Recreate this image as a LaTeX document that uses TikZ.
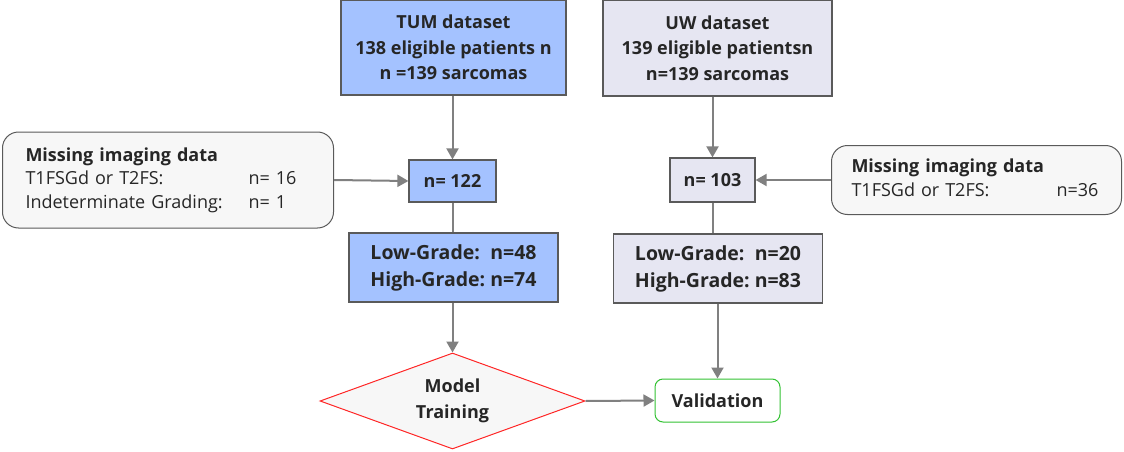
\documentclass[tikz,border=0pt]{standalone}
\usepackage{fontspec}
\setmainfont{Open Sans}
\usetikzlibrary{shapes.geometric,arrows.meta}
\definecolor{tumblue}{HTML}{A4C2FF}
\definecolor{uwgray}{HTML}{E6E6F2}
\definecolor{notegray}{HTML}{F7F7F7}
\definecolor{linegray}{HTML}{808080}
\definecolor{boxedge}{HTML}{5A5A5A}
\begin{document}
\begin{tikzpicture}[
    x=1pt, y=-1pt,
    every node/.style={font=\fontsize{18}{25.5}\selectfont, text=black!85},
    databox/.style={draw=boxedge, line width=1.2pt, align=center, font=\fontsize{18}{25.5}\selectfont\bfseries, inner sep=0pt},
    tumbox/.style={databox, fill=tumblue},
    uwbox/.style={databox, fill=uwgray},
    gradebox/.style={minimum width=209pt, minimum height=69pt, font=\fontsize{19.5}{27}\selectfont\bfseries},
    notebox/.style={draw=boxedge, line width=1pt, fill=notegray, rounded corners=16pt, align=left,
      inner ysep=0pt, anchor=west, font=\fontsize{18}{23.5}\selectfont},
    arrow/.style={draw=linegray, line width=2pt, -{Triangle[length=11pt,width=12pt]}},
    link/.style={draw=linegray, line width=2pt}
]
  \useasboundingbox (0,0) rectangle (1124,452);
  % datasets
  \node[tumbox, minimum width=225pt, minimum height=95pt] (tum) at (453.5,47.5)
    {TUM dataset\\138 eligible patients n\\n =139 sarcomas};
  \node[uwbox, minimum width=229pt, minimum height=96pt] (uw) at (717.5,48)
    {UW dataset\\139 eligible patientsn\\n=139 sarcomas};
  % after exclusion
  \node[tumbox, minimum width=87pt, minimum height=42pt] (tumn) at (452.5,181) {n= 122};
  \node[uwbox, minimum width=85pt, minimum height=44pt] (uwn) at (712.5,180) {n= 103};
  % excluded
  \node[notebox, inner xsep=23pt, text width=285pt, minimum height=96pt] (tummiss) at (2,180)
    {\begin{tabular}{@{}l@{}l@{}}
      \multicolumn{2}{@{}l}{\bfseries Missing imaging data}\\
      \makebox[223pt][l]{T1FSGd or T2FS:} & n= 16\\
      Indeterminate Grading: & n= 1
    \end{tabular}};
  \node[notebox, inner xsep=20pt, text width=250pt, minimum height=69pt] (uwmiss) at (831,180)
    {\begin{tabular}{@{}l@{}l@{}}
      \multicolumn{2}{@{}l}{\bfseries Missing imaging data}\\
      \makebox[205pt][l]{T1FSGd or T2FS:} & n=36
    \end{tabular}};
  % grades
  \node[tumbox, gradebox] (tumgrade) at (453.5,267.5)
    {\begin{tabular}{@{}l@{\ }l@{}}Low-Grade: & n=48\\High-Grade: & n=74\end{tabular}};
  \node[uwbox, gradebox] (uwgrade) at (718,268.5)
    {\begin{tabular}{@{}l@{\ }l@{}}Low-Grade: & n=20\\High-Grade: & n=83\end{tabular}};
  % training and validation
  \node[diamond, draw=red!85, line width=1pt, fill=notegray, aspect=2.76,
    minimum width=265pt, minimum height=96pt, inner sep=0pt, align=center,
    font=\fontsize{18}{25.5}\selectfont\bfseries] (train) at (452.5,401) {Model\\Training};
  \node[draw=green!70!black!80, line width=1pt, fill=white, rounded corners=8pt,
    minimum width=125pt, minimum height=43pt, inner sep=0pt,
    font=\fontsize{18}{25.5}\selectfont\bfseries] (valid) at (717.5,400.5) {Validation};

  \draw[arrow] (tum.south -| tumn) -- (tumn.north);
  \draw[arrow] (uw.south -| uwn) -- (uwn.north);
  \draw[arrow] (tummiss.east) -- (tumn.west);
  \draw[arrow] (uwmiss.west) -- (uwn.east);
  \draw[link] (tumn.south) -- (tumn.south |- tumgrade.north);
  \draw[link] (uwn.south) -- (uwn.south |- uwgrade.north);
  \draw[arrow] (tumgrade.south -| train) -- (train.north);
  \draw[arrow] (uwgrade.south -| valid) -- (valid.north);
  \draw[arrow] (train.east) -- (valid.west);
\end{tikzpicture}
\end{document}
